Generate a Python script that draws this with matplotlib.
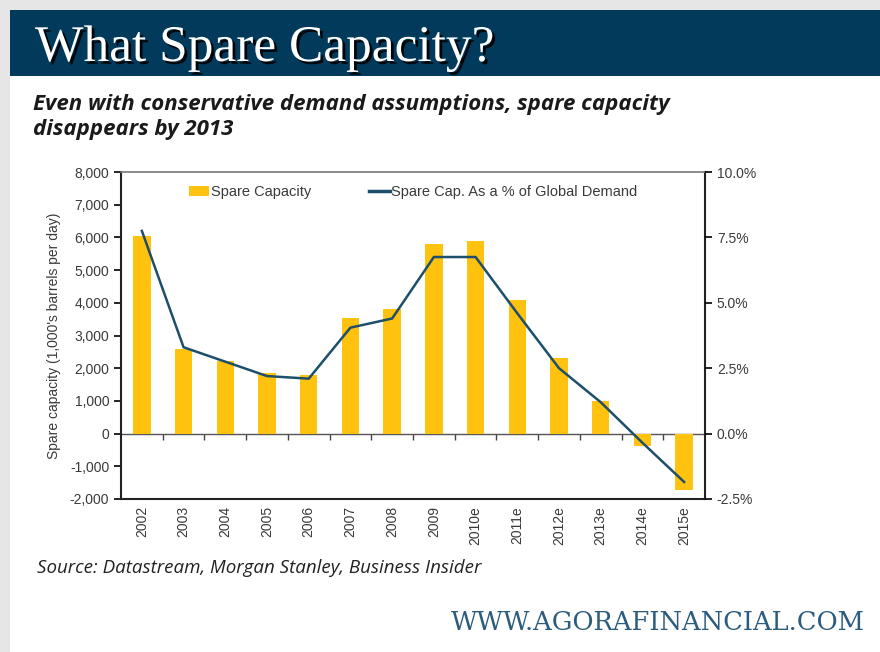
import numpy as np
import matplotlib.pyplot as plt
from matplotlib.patches import Rectangle
from matplotlib.lines import Line2D
from matplotlib.patches import Patch
import matplotlib.patheffects as pe
from matplotlib.ticker import FuncFormatter

# data
years = ['2002', '2003', '2004', '2005', '2006', '2007', '2008', '2009',
         '2010e', '2011e', '2012e', '2013e', '2014e', '2015e']
spare_capacity = [6050, 2600, 2220, 1850, 1780, 3530, 3800, 5800,
                  5880, 4100, 2310, 1000, -380, -1740]
spare_pct = [7.75, 3.3, 2.75, 2.2, 2.1, 4.05, 4.4, 6.75,
             6.75, 4.6, 2.5, 1.2, -0.35, -1.85]

bar_color = '#FFC20E'
line_color = '#1d4f6b'
header_color = '#023a5c'
txt_color = '#3a3a3a'
sans = ['Liberation Sans', 'DejaVu Sans']

fig = plt.figure(figsize=(8.8, 6.52), dpi=100)
fig.patch.set_facecolor('#e6e6e6')
# white card with header band
fig.patches.append(Rectangle((10 / 880, 0), 1, 1 - 10 / 652, transform=fig.transFigure,
                             facecolor='white', edgecolor='none', zorder=-2))
fig.patches.append(Rectangle((10 / 880, 1 - 76 / 652), 1, 66 / 652, transform=fig.transFigure,
                             facecolor=header_color, edgecolor='none', zorder=-1))

fig.text(35 / 880, 1 - 61 / 652, 'What Spare Capacity?', color='white',
         fontsize=37, family='Liberation Serif',
         path_effects=[pe.withSimplePatchShadow(offset=(2, -2), shadow_rgbFace='black', alpha=0.9)])

fig.text(33 / 880, 1 - 110 / 652, 'Even with conservative demand assumptions, spare capacity',
         fontsize=16, fontweight='bold', fontstyle='italic', family='Open Sans', color='#1a1a1a')
fig.text(33 / 880, 1 - 135 / 652, 'disappears by 2013',
         fontsize=16, fontweight='bold', fontstyle='italic', family='Open Sans', color='#1a1a1a')

fig.text(37 / 880, 1 - 573 / 652, 'Source: Datastream, Morgan Stanley, Business Insider',
         fontsize=13.5, fontstyle='italic', family='Open Sans', color='#222222')
fig.text(865 / 880, 1 - 630 / 652, 'WWW.AGORAFINANCIAL.COM', ha='right',
         fontsize=18.5, family='DejaVu Serif', color='#2b5b7d')

ax = fig.add_axes([121 / 880, 1 - 499 / 652, 584 / 880, 327 / 652])
x = np.arange(len(years))
ax.bar(x, spare_capacity, width=0.42, color=bar_color, zorder=2)
ax.set_xlim(-0.5, len(years) - 0.5)
ax.set_ylim(-2000, 8000)
ax.set_yticks(range(-2000, 8001, 1000))
ax.yaxis.set_major_formatter(FuncFormatter(lambda v, p: f'{int(v):,}'))
ax.set_xticks(x)
ax.set_xticklabels(years, rotation=90, fontsize=10, family=sans, color=txt_color)
ax.tick_params(axis='x', length=0, pad=5)
ax.tick_params(axis='y', labelsize=10, labelcolor=txt_color, length=5, width=1.2, direction='out')
for lab in ax.get_yticklabels():
    lab.set_family(sans)
ax.set_ylabel("Spare capacity (1,000's barrels per day)", fontsize=10, family=sans,
              color=txt_color, labelpad=6)
ax.axhline(0, color='#555555', lw=1, zorder=1)
for s in ['left', 'right', 'bottom']:
    ax.spines[s].set_color('#222222')
    ax.spines[s].set_linewidth(1.5)
ax.spines['top'].set_color('#777777')
ax.spines['top'].set_linewidth(1.2)

# tick marks on the zero line between categories
sec = ax.secondary_xaxis(0.2)
sec.set_xticks(np.arange(0.5, len(years) - 1, 1))
sec.tick_params(length=4, width=1, direction='out', labelbottom=False, color='#444444')
sec.spines['bottom'].set_visible(False)

ax2 = ax.twinx()
ax2.plot(x, spare_pct, color=line_color, lw=1.8, zorder=3)
ax2.set_ylim(-2.5, 10)
ax2.set_yticks(np.arange(-2.5, 10.01, 2.5))
ax2.yaxis.set_major_formatter(FuncFormatter(lambda v, p: f'{v:.1f}%'))
ax2.tick_params(axis='y', labelsize=10, labelcolor=txt_color, length=5, width=1.2, direction='out')
for lab in ax2.get_yticklabels():
    lab.set_family(sans)
for s in ax2.spines.values():
    s.set_visible(False)

handles = [Patch(facecolor=bar_color, edgecolor='none'),
           Line2D([0], [0], color=line_color, lw=2.5)]
leg = ax.legend(handles, ['Spare Capacity', 'Spare Cap. As a % of Global Demand'],
                loc='upper center', bbox_to_anchor=(0.5, 1.0), ncol=2, frameon=False,
                prop={'family': sans, 'size': 10.5}, handlelength=1.4, handletextpad=0.1,
                columnspacing=4)
for t in leg.get_texts():
    t.set_color(txt_color)

fig.savefig('out.png', dpi=100)
